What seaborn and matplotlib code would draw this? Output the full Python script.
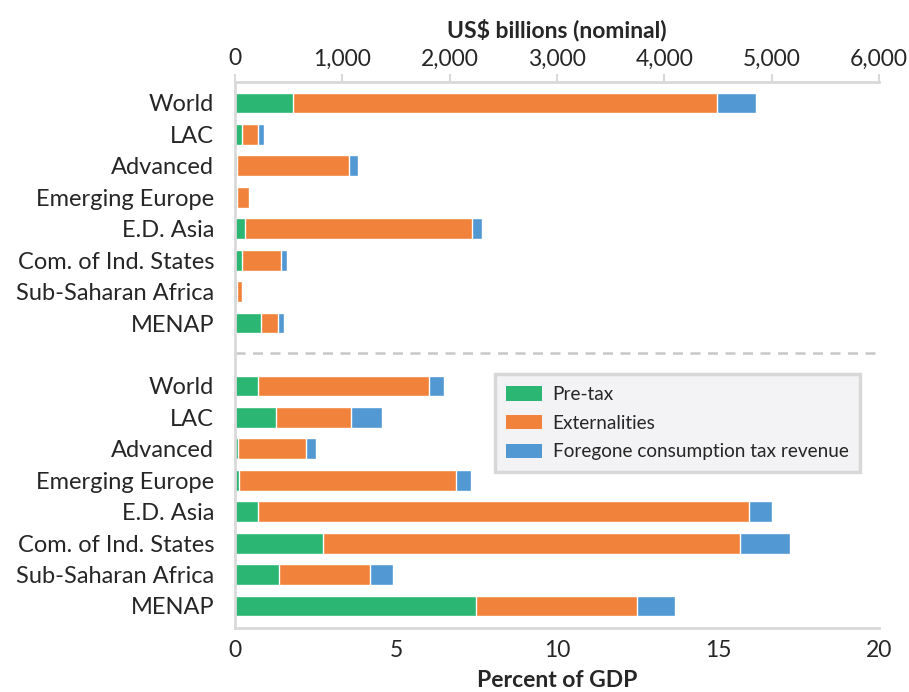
import matplotlib.pyplot as plt
import numpy as np
import seaborn as sns
from matplotlib.patches import Patch
from matplotlib.ticker import FuncFormatter

regions = ['World', 'LAC', 'Advanced', 'Emerging Europe', 'E.D. Asia',
           'Com. of Ind. States', 'Sub-Saharan Africa', 'MENAP']

# US$ billions (nominal)
usd_pretax = [545, 61, 23, 15, 89, 70, 23, 247]
usd_extern = [3948, 149, 1035, 111, 2115, 363, 38, 158]
usd_foregone = [358, 56, 84, 0, 93, 56, 0, 56]

# Percent of GDP
gdp_pretax = [0.70, 1.26, 0.08, 0.11, 0.73, 2.72, 1.38, 7.50]
gdp_extern = [5.34, 2.33, 2.14, 6.74, 15.22, 12.95, 2.80, 5.00]
gdp_foregone = [0.44, 0.99, 0.31, 0.49, 0.74, 1.58, 0.74, 1.18]

labels = ['Pre-tax', 'Externalities', 'Foregone consumption tax revenue']
colors = ['#2BB673', '#F1823B', '#5298D3']
grey = '#D9D9D9'
text_col = '#262626'

sns.set_style('white')
plt.rcParams['font.family'] = ['Lato', 'DejaVu Sans']


def stacked(ax, parts):
    """Draw stacked horizontal bars, the longest (total) first."""
    cum = np.cumsum(np.array(parts, dtype=float), axis=0)
    for vals, color in reversed(list(zip(cum, colors))):
        sns.barplot(x=vals, y=regions, orient='h', color=color,
                    saturation=1, width=0.66, ax=ax)
    ax.set_ylabel('')
    ax.tick_params(axis='y', length=0, labelsize=17, labelcolor=text_col,
                   pad=15)
    for side in ['left', 'right', 'top', 'bottom']:
        ax.spines[side].set_visible(False)
    ax.spines['left'].set_visible(True)
    ax.spines['left'].set_color(grey)
    ax.spines['left'].set_linewidth(2)


fig = plt.figure(figsize=(9.09, 6.92), dpi=100)
ax_top = fig.add_axes([0.2585, 0.490, 0.7085, 0.3916])
ax_bot = fig.add_axes([0.2585, 0.0925, 0.7085, 0.3974])

# top panel: US$ billions
stacked(ax_top, [usd_pretax, usd_extern, usd_foregone])
ax_top.set_xlim(0, 6000)
ax_top.set_ylim(7.95, -0.67)
ax_top.xaxis.tick_top()
ax_top.xaxis.set_label_position('top')
ax_top.set_xticks(np.arange(0, 6001, 1000))
ax_top.xaxis.set_major_formatter(FuncFormatter(lambda v, p: f'{v:,.0f}'))
ax_top.spines['top'].set_visible(True)
ax_top.spines['top'].set_color(grey)
ax_top.spines['top'].set_linewidth(2)
ax_top.tick_params(axis='x', direction='out', length=6, width=1.5,
                   color=grey, labelsize=16.5, labelcolor=text_col, pad=3)
ax_top.set_xlabel('US$ billions (nominal)', fontsize=16.5,
                  fontweight='bold', color=text_col, labelpad=8)

# bottom panel: percent of GDP
stacked(ax_bot, [gdp_pretax, gdp_extern, gdp_foregone])
ax_bot.set_xlim(0, 20)
ax_bot.set_ylim(7.70, -1.05)
ax_bot.set_xticks(np.arange(0, 21, 5))
ax_bot.spines['bottom'].set_visible(True)
ax_bot.spines['bottom'].set_color(grey)
ax_bot.spines['bottom'].set_linewidth(2)
ax_bot.tick_params(axis='x', direction='out', length=6, width=1.5,
                   color=grey, labelsize=16.5, labelcolor=text_col, pad=3)
ax_bot.set_xlabel('Percent of GDP', fontsize=16.5, fontweight='bold',
                  color=text_col, labelpad=6)

# dashed separator between panels
ax_bot.axhline(-1.05, color='#C8C8C8', lw=1.8, ls=(0, (4, 3)),
               clip_on=False)

handles = [Patch(facecolor=c, edgecolor='none', label=l)
           for c, l in zip(colors, labels)]
leg = ax_bot.legend(handles=handles, loc='upper left',
                    bbox_to_anchor=(0.403, 0.922), fontsize=13.7,
                    frameon=True, fancybox=False, handlelength=1.9,
                    handleheight=0.8, labelspacing=0.62, borderpad=0.6,
                    handletextpad=0.55, borderaxespad=0,
                    labelcolor=text_col)
leg.get_frame().set_facecolor('#F0F1F3')
leg.get_frame().set_edgecolor('#D0D0D0')
leg.get_frame().set_linewidth(2.5)

fig.savefig('out.png', dpi=100)
